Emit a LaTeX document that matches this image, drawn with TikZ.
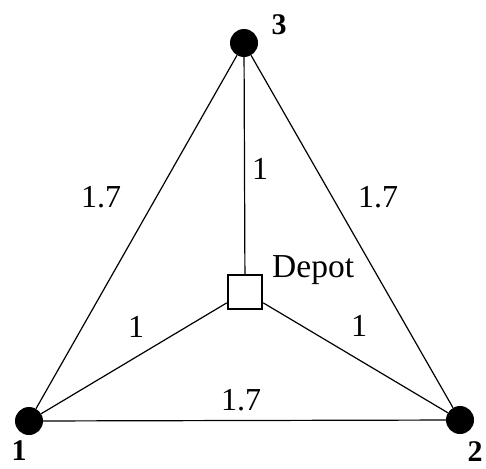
\documentclass[tikz,border=0pt]{standalone}
\usepackage{fontspec}
\setmainfont{Liberation Serif}
\begin{document}
\begin{tikzpicture}[x=1pt,y=-1pt,
  city/.style={circle,fill=black,minimum size=28pt,inner sep=0pt},
  depot/.style={draw=black,line width=2.4pt,minimum size=34pt,inner sep=0pt,fill=white},
  edge/.style={line width=1.2pt},
  wlab/.style={inner sep=0pt,font=\fontsize{32}{36}\selectfont},
  clab/.style={inner sep=0pt,font=\fontsize{30}{34}\selectfont\bfseries}]
\useasboundingbox (0,0) rectangle (486,468);
\node[city] (n3) at (244,43) {};
\node[city] (n1) at (29,421) {};
\node[city] (n2) at (460,420) {};
\node[depot] (d) at (245,292) {};
\draw[edge] (n3) -- (n1);
\draw[edge] (n3) -- (n2);
\draw[edge] (n3) -- (d);
\draw[edge] (d) -- (n1);
\draw[edge] (d) -- (n2);
\draw[edge] (n1) -- (n2);
\node[clab] (l3) at (279,25) {3};
\node[clab] (l1) at (19,451) {1};
\node[clab] (l2) at (475,452) {2};
\node[wlab,anchor=base west,font=\fontsize{33.5}{36}\selectfont] (ld) at (272,277) {Depot};
\node[wlab] (e31) at (101,197) {1.7};
\node[wlab] (e32) at (378,197) {1.7};
\node[wlab] (e3d) at (260,169) {1};
\node[wlab] (ed1) at (136,327) {1};
\node[wlab] (ed2) at (359,326) {1};
\node[wlab] (e12) at (241,400) {1.7};
\end{tikzpicture}
\end{document}
